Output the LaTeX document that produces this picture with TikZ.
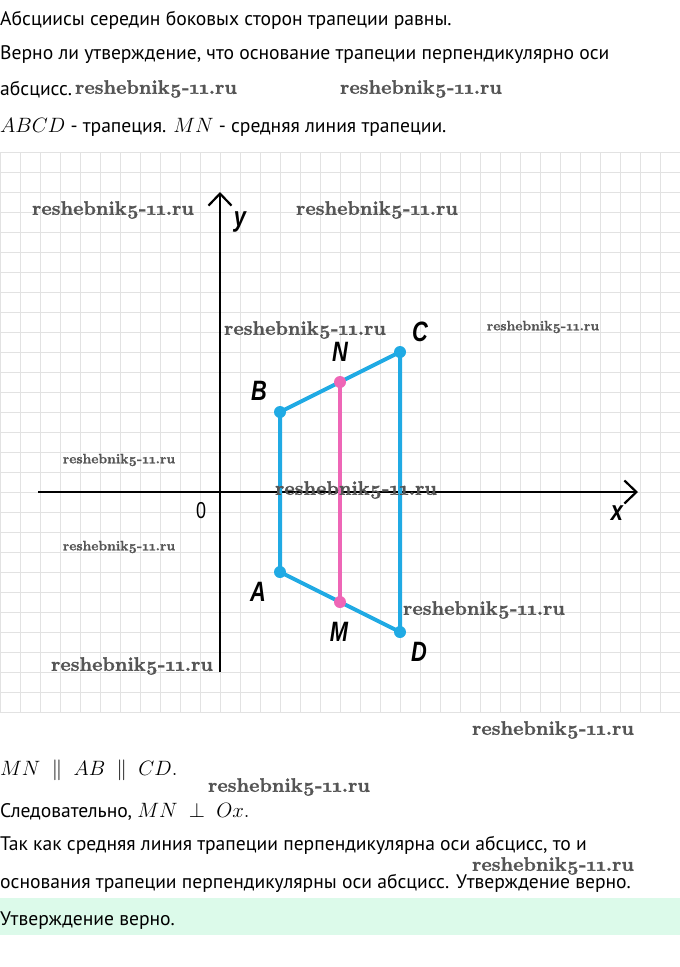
\documentclass[tikz,border=0pt]{standalone}
\usepackage{fontspec}
\setmainfont{PT Sans}
\newfontfamily\wmfont[Numbers=OldStyle,FakeBold=1.2]{lmroman10-bold.otf}
\newfontfamily\lblfont[FakeStretch=0.78]{Liberation Sans}
\usetikzlibrary{arrows.meta}
\definecolor{gridgray}{RGB}{226,226,226}
\definecolor{wmgray}{RGB}{85,85,85}
\definecolor{tblue}{RGB}{32,170,228}
\definecolor{tpink}{RGB}{238,102,182}
\definecolor{answerbg}{RGB}{220,250,234}
\newcommand{\bigmath}[1]{{\fontsize{21}{24}\selectfont$#1$}}
\begin{document}
\begin{tikzpicture}[x=1pt,y=-1pt,
  txt/.style={anchor=base west,inner sep=0pt,font=\fontsize{19.6}{24}\selectfont},
  wmbig/.style={inner sep=0pt,text=wmgray,font=\wmfont\fontsize{19.6}{22}\selectfont},
  wmsmall/.style={inner sep=0pt,text=wmgray,font=\wmfont\fontsize{13.6}{16}\selectfont},
  gridline/.style={draw=gridgray,line width=0.8pt},
  axisline/.style={line width=2.2pt,black,-{Straight Barb[length=12pt,width=23pt,line width=2.2pt]}},
  side/.style={draw=tblue,line width=4pt,line join=round},
  midline/.style={draw=tpink,line width=4pt},
  lbl/.style={inner sep=0pt,font=\lblfont\bfseries\itshape\fontsize{28}{30}\selectfont},
  dotb/.style={circle,fill=tblue,inner sep=0pt,minimum size=12pt},
  dotp/.style={circle,fill=tpink,inner sep=0pt,minimum size=12pt},
]
\useasboundingbox (0,0) rectangle (680,967);
\fill[white] (0,0) rectangle (680,967);

% top text
\node[txt] (t1) at (0,25) {Абсциисы середин боковых сторон трапеции равны.};
\node[txt] (t2) at (0,59) {Верно ли утверждение, что основание трапеции перпендикулярно оси};
\node[txt] (t3) at (0,95) {абсцисс.};
\node[wmbig] (w1) at (156,89) {reshebnik5-11.ru};
\node[wmbig] (w2) at (421,89) {reshebnik5-11.ru};
\node[txt] (t4) at (0,132) {$ABCD$ - трапеция. $MN$ - средняя линия трапеции.};

% grid
\foreach \i in {0,...,34} \draw[gridline] (\i*20,152) -- (\i*20,712);
\foreach \j in {0,...,28} \draw[gridline] (0,152+\j*20) -- (680,152+\j*20);

% axes
\coordinate (xs) at (38,492);
\coordinate (xe) at (638,492);
\coordinate (ys) at (220,672);
\coordinate (ye) at (220,192);
\draw[axisline] (xs) -- (xe);
\draw[axisline] (ys) -- (ye);
\node[lbl] (ylab) at (240,222) {y};
\node[lbl] (xlab) at (617,513) {x};
\node[inner sep=0pt,font=\lblfont\fontsize{23}{25}\selectfont] (olab) at (201,511) {0};

% trapezoid
\coordinate (A) at (280,572);
\coordinate (B) at (280,412);
\coordinate (C) at (400,352);
\coordinate (D) at (400,632);
\coordinate (M) at (340,602);
\coordinate (N) at (340,382);
\draw[side] (A) -- (B) -- (C) -- (D) -- cycle;
\draw[midline] (M) -- (N);
\node[dotb] (dA) at (A) {};
\node[dotb] (dB) at (B) {};
\node[dotb] (dC) at (C) {};
\node[dotb] (dD) at (D) {};
\node[dotp] (dM) at (M) {};
\node[dotp] (dN) at (N) {};
\node[lbl] (lA) at (258,592) {A};
\node[lbl] (lB) at (259,391) {B};
\node[lbl] (lC) at (420,332) {C};
\node[lbl] (lD) at (419,652) {D};
\node[lbl] (lM) at (339,632) {M};
\node[lbl] (lN) at (340,352) {N};

% watermarks in graph
\node[wmbig] (w3) at (113,210) {reshebnik5-11.ru};
\node[wmbig] (w4) at (377,210) {reshebnik5-11.ru};
\node[wmbig] (w5) at (305,330) {reshebnik5-11.ru};
\node[wmsmall] (w6) at (543,327) {reshebnik5-11.ru};
\node[wmsmall] (w7) at (119,460) {reshebnik5-11.ru};
\node[wmbig] (w8) at (356,490) {reshebnik5-11.ru};
\node[wmsmall] (w9) at (119,547) {reshebnik5-11.ru};
\node[wmbig] (w10) at (484,610) {reshebnik5-11.ru};
\node[wmbig] (w11) at (132,666) {reshebnik5-11.ru};

% bottom text
\node[wmbig] (w12) at (553,730) {reshebnik5-11.ru};
\node[txt] (b1) at (0,775) {\bigmath{MN\ \parallel\ AB\ \parallel\ CD.}};
\node[wmbig] (w13) at (289,787) {reshebnik5-11.ru};
\node[txt] (b2) at (0,817) {Следовательно, \bigmath{MN\ \perp\ Ox.}};
\node[txt] (b3) at (0,850) {Так как средняя линия трапеции перпендикулярна оси абсцисс, то и};
\node[wmbig] (w14) at (553,866) {reshebnik5-11.ru};
\node[txt] (b4) at (0,888) {основания трапеции перпендикулярны оси абсцисс. Утверждение верно.};
\fill[answerbg] (0,898) rectangle (680,935);
\node[txt] (b5) at (0,925) {Утверждение верно.};
\end{tikzpicture}
\end{document}
